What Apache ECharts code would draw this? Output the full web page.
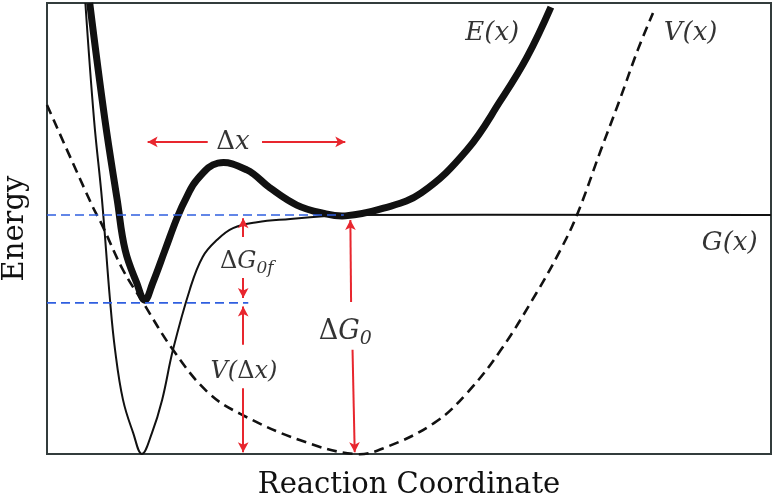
<!DOCTYPE html>
<html>
<head>
<meta charset="utf-8">
<script src="https://cdn.jsdelivr.net/npm/echarts@6/dist/echarts.min.js"></script>
<style>html,body{margin:0;padding:0;background:#fff}#chart{width:774px;height:502px}</style>
</head>
<body>
<div id="chart"></div>
<script>
// values, arbitrary units (x: 0-100, energy: 0-100)
const gX = [5.3, 6.5, 7.6, 8.7, 9.4, 10.5, 11.9, 13.1, 14.5, 15.9, 17.4, 19.75, 21.5, 23.5, 25.7, 29.0, 33.6, 39.1, 41.4, 100];
const gY = [100, 74.1, 56.3, 34.2, 23.1, 12.0, 4.7, 0, 4.7, 12.0, 23.1, 36.6, 43.7, 47.5, 50.1, 51.4, 52.1, 52.8, 53.0, 53.0];
const eX = [5.9, 8.0, 9.7, 10.8, 12.4, 13.5, 14.6, 16.3, 18.0, 19.3, 20.7, 23.6, 27.6, 30.8, 34.5, 38.1, 41.2, 46.5, 51.7, 58.0, 62.7, 66.3, 69.6];
const eY = [100, 74.1, 56.3, 45.2, 37.9, 34.1, 37.9, 45.2, 52.5, 57.0, 60.8, 64.5, 63.0, 59.0, 55.2, 53.4, 52.8, 54.5, 57.9, 67.4, 78.5, 88.0, 99.1];
const vX = [0, 6.2, 7.6, 10.5, 13.3, 17.4, 22.2, 26.7, 34.9, 42.5, 46.5, 53.5, 58.0, 62.7, 67.6, 70.9, 73.2, 76.5, 79.1, 81.6, 83.7];
const vY = [77.4, 55.2, 50.8, 40.8, 33.5, 23.1, 13.7, 8.9, 3.1, 0, 1.3, 6.9, 13.5, 23.1, 35.7, 45.2, 53.0, 67.4, 78.5, 89.6, 97.8];

// blue reference levels and where they stop
const refLevels = [53.0, 33.5];
const refEnds = [41.0, 27.8];

// red arrows: from (x1,y1) to (x2,y2), head at the end
const arrows = [
  [22.2, 69.2, 13.9, 69.2],
  [29.7, 69.2, 41.2, 69.2],
  [27.1, 48.1, 27.1, 52.3],
  [27.1, 39.0, 27.1, 34.6],
  [27.1, 24.2, 27.1, 32.7],
  [27.1, 14.6, 27.1, 0.4],
  [42.0, 33.7, 41.9, 51.9],
  [42.2, 23.1, 42.5, 0.4]
];

// annotation text and where it sits
const labelX = [25.7, 27.6, 27.2, 41.2, 61.5, 88.9, 94.3];
const labelY = [69.2, 42.6, 18.2, 27.1, 93.3, 93.3, 46.8];
const labelText = [
  '{d|Δ}{i|x}',
  '{d|Δ}{i|G}{s|0f}',
  '{i|V(}{d|Δ}{i|x)}',
  '{d|Δ}{i|G}{s|0}',
  '{i|E(x)}',
  '{i|V(x)}',
  '{i|G(x)}'
];
const labelSize = [26, 24, 24, 27, 26, 26, 26];

const SERIF = 'DejaVu Serif';
const RED = '#e8262e';
const BLUE = '#2f5fe0';

function richFor(size) {
  let sub = Math.round(size * 0.7);
  return {
    d: {fontFamily: SERIF, fontSize: size, color: '#000', textBorderWidth: 0, lineHeight: size + 6},
    i: {fontFamily: SERIF, fontStyle: 'italic', fontSize: size, color: '#000', textBorderWidth: 0, lineHeight: size + 6},
    s: {fontFamily: SERIF, fontStyle: 'italic', fontSize: sub, color: '#000', textBorderWidth: 0,
        lineHeight: sub, verticalAlign: 'bottom'}
  };
}

// smooth curve through the read points, placed with the chart's own axes
function curveSeries(xs, ys, width, dash) {
  return {
    type: 'custom', coordinateSystem: 'cartesian2d', silent: true,
    data: [[xs[0], ys[0]]],
    renderItem: (params, api) => {
      let pts = xs.map((x, i) => api.coord([x, ys[i]]));
      return {
        type: 'polyline',
        shape: {points: pts, smooth: 0.4},
        style: {fill: 'none', stroke: '#111', lineWidth: width, lineDash: dash || null}
      };
    }
  };
}

let myChart = echarts.init(document.getElementById('chart'));

let series = [];

refLevels.forEach((lv, i) => {
  series.push({
    type: 'line', data: [[0, lv], [refEnds[i], lv]], symbol: 'none', silent: true,
    lineStyle: {color: BLUE, width: 1.6, type: [9, 5]}
  });
});

series.push(curveSeries(vX, vY, 2.6, [10, 6]));
series.push(curveSeries(gX, gY, 2));
series.push(curveSeries(eX, eY, 7));

series.push({
  type: 'line', data: [], symbol: 'none', silent: true,
  markLine: {
    silent: true, animation: false,
    symbol: ['none', 'arrow'], symbolSize: [8, 10],
    label: {show: false},
    lineStyle: {color: RED, width: 2, type: 'solid'},
    data: arrows.map(a => [{coord: [a[0], a[1]]}, {coord: [a[2], a[3]]}])
  }
});

series.push({
  type: 'scatter', symbolSize: 0, silent: true,
  data: labelX.map((x, i) => ({
    value: [x, labelY[i]],
    label: {
      show: true, position: 'inside', formatter: labelText[i],
      color: '#000', textBorderWidth: 0,
      rich: richFor(labelSize[i])
    }
  }))
});

myChart.setOption({
  animation: false,
  grid: {left: 47, right: 3, top: 3, bottom: 48, outerBoundsMode: 'none',
    show: true, borderColor: '#333c3c', borderWidth: 2},
  xAxis: {
    type: 'value', min: 0, max: 100,
    axisLine: {show: false}, axisTick: {show: false}, axisLabel: {show: false}, splitLine: {show: false},
    name: 'Reaction Coordinate', nameLocation: 'middle', nameGap: 17,
    nameTextStyle: {fontFamily: SERIF, fontSize: 29, color: '#111'}
  },
  yAxis: {
    type: 'value', min: 0, max: 100,
    axisLine: {show: false}, axisTick: {show: false}, axisLabel: {show: false}, splitLine: {show: false},
    name: 'Energy', nameLocation: 'middle', nameGap: 17,
    nameTextStyle: {fontFamily: SERIF, fontSize: 29, color: '#111'}
  },
  series: series
});
</script>
</body>
</html>
